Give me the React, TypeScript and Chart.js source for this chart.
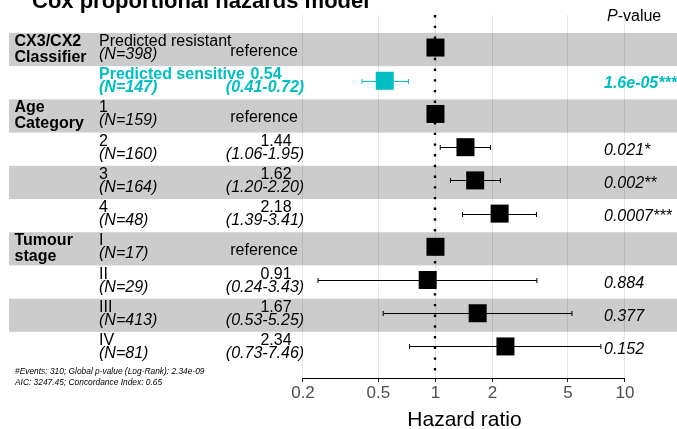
import React, { useEffect, useRef } from 'react';
import { Chart, registerables } from 'chart.js';

Chart.register(...registerables);

// ---- data ----
const rowLevels = ['Predicted resistant', 'Predicted sensitive', '1', '2', '3', '4', 'I', 'II', 'III', 'IV'];
const rowN = [398, 147, 159, 160, 164, 48, 17, 29, 413, 81];
const hazardRatios = [1, 0.54, 1, 1.44, 1.62, 2.18, 1, 0.91, 1.67, 2.34];
const ciLower: (number | null)[] = [null, 0.41, null, 1.06, 1.2, 1.39, null, 0.24, 0.53, 0.73];
const ciUpper: (number | null)[] = [null, 0.72, null, 1.95, 2.2, 3.41, null, 3.43, 5.25, 7.46];
const estimateLabels = ['reference', '0.54', 'reference', '1.44', '1.62', '2.18', 'reference', '0.91', '1.67', '2.34'];
const ciLabels = ['', '(0.41-0.72)', '', '(1.06-1.95)', '(1.20-2.20)', '(1.39-3.41)', '', '(0.24-3.43)', '(0.53-5.25)', '(0.73-7.46)'];
const pValueLabels = ['', '1.6e-05***', '', '0.021*', '0.002**', '0.0007***', '', '0.884', '0.377', '0.152'];
const variableNames = [['CX3/CX2', 'Classifier'], ['Age', 'Category'], ['Tumour', 'stage']];
const variableRows = [1, 3, 7];
const highlightRows = [2];
const xTicks = [0.2, 0.5, 1, 2, 5, 10];
const footnotes = ['#Events: 310; Global p-value (Log-Rank): 2.34e-09', 'AIC: 3247.45; Concordance Index: 0.65'];
const chartTitle = 'Cox proportional hazards model';
const axisTitle = 'Hazard ratio';

// ---- styling ----
const FONT = '"Liberation Sans", Arial, Helvetica, sans-serif';
const CYAN = '#00BFC4';
const X_MIN = 0.005622;
const X_MAX = 18.81;

const forestPlugin = {
  id: 'forest',
  beforeDatasetsDraw(chart: any) {
    const { ctx, chartArea, scales } = chart;
    const xs = scales.x;
    const ys = scales.y;
    ctx.save();
    // alternating bands
    ctx.fillStyle = 'rgba(0,0,0,0.2)';
    for (let i = 1; i <= rowLevels.length; i += 2) {
      const top = ys.getPixelForValue(i - 0.5) + 2;
      const bot = ys.getPixelForValue(i + 0.5) + 2;
      ctx.fillRect(chartArea.left, top, chartArea.right - chartArea.left, bot - top);
    }
    // axis line
    ctx.strokeStyle = '#000';
    ctx.lineWidth = 1;
    ctx.beginPath();
    ctx.moveTo(xs.getPixelForValue(xTicks[0]), chartArea.bottom + 0.5);
    ctx.lineTo(xs.getPixelForValue(xTicks[xTicks.length - 1]), chartArea.bottom + 0.5);
    ctx.stroke();
    // reference dotted line at HR = 1
    const x1 = Math.round(xs.getPixelForValue(1));
    ctx.setLineDash([2.4, 8.3]);
    ctx.lineWidth = 2.4;
    ctx.beginPath();
    ctx.moveTo(x1, chartArea.top);
    ctx.lineTo(x1, chartArea.bottom);
    ctx.stroke();
    ctx.setLineDash([]);
    // error bars
    for (let i = 0; i < rowLevels.length; i++) {
      const lo = ciLower[i];
      const hi = ciUpper[i];
      if (lo == null || hi == null) continue;
      const y = Math.round(ys.getPixelForValue(i + 1)) + 0.5;
      const xl = xs.getPixelForValue(lo);
      const xh = xs.getPixelForValue(hi);
      ctx.strokeStyle = highlightRows.includes(i + 1) ? CYAN : '#000';
      ctx.lineWidth = 1;
      ctx.beginPath();
      ctx.moveTo(xl, y);
      ctx.lineTo(xh, y);
      ctx.moveTo(xl, y - 2.5);
      ctx.lineTo(xl, y + 2.5);
      ctx.moveTo(xh, y - 2.5);
      ctx.lineTo(xh, y + 2.5);
      ctx.stroke();
    }
    ctx.restore();
  },
  afterDraw(chart: any) {
    const { ctx, scales } = chart;
    const ys = scales.y;
    const xs = scales.x;
    ctx.save();
    ctx.textBaseline = 'alphabetic';
    // title (partially cut off at top)
    ctx.fillStyle = '#000';
    ctx.textAlign = 'left';
    ctx.font = `bold 22px ${FONT}`;
    ctx.fillText(chartTitle, 32, 7.5);
    // P-value header
    ctx.font = `italic 16px ${FONT}`;
    ctx.fillText('P', 607, 21);
    const pw = ctx.measureText('P').width;
    ctx.font = `16px ${FONT}`;
    ctx.fillText('-value', 607 + pw, 21);

    for (let i = 0; i < rowLevels.length; i++) {
      const row = i + 1;
      const c = ys.getPixelForValue(row) + 2;
      const hl = highlightRows.includes(row);
      ctx.fillStyle = hl ? CYAN : '#000';
      const w = hl ? 'bold ' : '';
      // level + N
      ctx.textAlign = 'left';
      ctx.font = `${w}16px ${FONT}`;
      ctx.fillText(rowLevels[i], 99, c - 3.5);
      ctx.font = `italic ${w}16px ${FONT}`;
      ctx.fillText(`(N=${rowN[i]})`, 99, c + 9.5);
      // estimate
      ctx.textAlign = 'center';
      if (ciLabels[i] === '') {
        ctx.font = `${w}16px ${FONT}`;
        ctx.fillText(estimateLabels[i], 264, c + 6);
      } else {
        ctx.font = `${w}16px ${FONT}`;
        ctx.fillText(estimateLabels[i], hl ? 266 : 276, c - 3.5);
        ctx.font = `italic ${w}16px ${FONT}`;
        ctx.fillText(ciLabels[i], 265, c + 9.5);
      }
      // p-value
      if (pValueLabels[i]) {
        ctx.textAlign = 'left';
        ctx.font = `italic ${w}16px ${FONT}`;
        ctx.fillText(pValueLabels[i], 604, c + 5.5);
      }
    }
    // variable names
    ctx.fillStyle = '#000';
    ctx.textAlign = 'left';
    ctx.font = `bold 16px ${FONT}`;
    variableNames.forEach((lines, k) => {
      const c = ys.getPixelForValue(variableRows[k]) + 2;
      ctx.fillText(lines[0], 14.5, c - 3.5);
      ctx.fillText(lines[1], 14.5, c + 12);
    });
    // footnotes
    ctx.font = `italic 8.4px ${FONT}`;
    ctx.fillText(footnotes[0], 15, 373.5);
    ctx.fillText(footnotes[1], 15, 385);
    // axis title
    ctx.textAlign = 'center';
    ctx.font = `21px ${FONT}`;
    const ax = (xs.getPixelForValue(xTicks[0]) + xs.getPixelForValue(xTicks[xTicks.length - 1])) / 2;
    ctx.fillText(axisTitle, ax + 0.5, 426);
    ctx.restore();
  },
};

export default function App() {
  const canvasRef = useRef<HTMLCanvasElement | null>(null);

  useEffect(() => {
    const canvas = canvasRef.current;
    if (!canvas) return;
    const chart = new Chart(canvas, {
      type: 'scatter',
      data: {
        datasets: [
          {
            data: hazardRatios.map((v, i) => ({ x: v, y: i + 1 })),
            pointStyle: 'rect',
            pointRadius: 12.73,
            pointHoverRadius: 12.73,
            pointBorderWidth: 0,
            pointBackgroundColor: hazardRatios.map((_, i) => (highlightRows.includes(i + 1) ? CYAN : '#000')),
            pointBorderColor: 'rgba(0,0,0,0)',
          },
        ],
      },
      options: {
        animation: false,
        responsive: false,
        devicePixelRatio: 1,
        events: [],
        layout: { autoPadding: false, padding: { left: 9, right: 0, top: 15, bottom: 0 } },
        plugins: { legend: { display: false }, tooltip: { enabled: false }, title: { display: false } },
        scales: {
          x: {
            type: 'logarithmic',
            min: X_MIN,
            max: X_MAX,
            bounds: 'data',
            afterBuildTicks: (scale: any) => {
              scale.ticks = xTicks.map((v) => ({ value: v }));
            },
            afterFit: (scale: any) => {
              scale.height = 51;
              scale.paddingLeft = 0;
              scale.paddingRight = 0;
              scale.paddingTop = 0;
              scale.paddingBottom = 0;
            },
            border: { display: false },
            grid: { color: '#e6e6e6', lineWidth: 1, tickLength: 4, tickColor: '#222', drawTicks: true },
            ticks: {
              autoSkip: false,
              maxRotation: 0,
              padding: 3,
              color: '#4d4d4d',
              font: { family: FONT, size: 17, lineHeight: 1 },
              callback: (v: any) => String(v),
            },
          },
          y: {
            type: 'linear',
            min: 0.02,
            max: 10.95,
            reverse: true,
            display: false,
          },
        },
      },
      plugins: [forestPlugin],
    } as any);
    return () => chart.destroy();
  }, []);

  return (
    <div style={{ position: 'absolute', left: 0, top: 0, width: 677, height: 429, background: '#fff' }}>
      <canvas ref={canvasRef} width={677} height={429} style={{ width: 677, height: 429, display: 'block' }} />
    </div>
  );
}
